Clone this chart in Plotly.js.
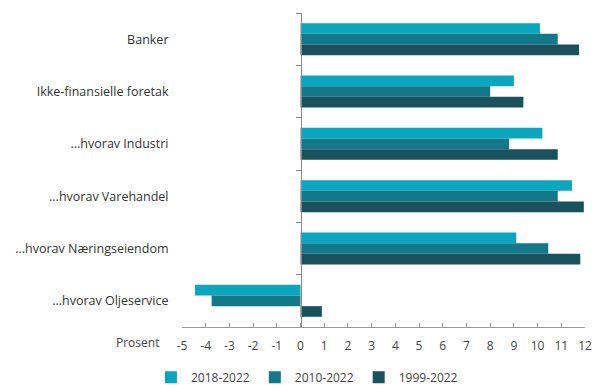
<!DOCTYPE html>
<html>
<head>
<meta charset="utf-8">
<script src="https://cdn.plot.ly/plotly-3.0.1.min.js"></script>
<style>html,body{margin:0;padding:0;background:#fff}#chart{width:593px;height:385px}</style>
</head>
<body>
<div id="chart"></div>
<script>
var categories = ["Banker", "Ikke-finansielle foretak", "...hvorav Industri", "...hvorav Varehandel", "...hvorav Næringseiendom", "...hvorav Oljeservice"];
var seriesNames = ["2018-2022", "2010-2022", "1999-2022"];
var v2018 = [10.1, 9.0, 10.2, 11.45, 9.1, -4.45];
var v2010 = [10.85, 8.0, 8.8, 10.85, 10.45, -3.75];
var v1999 = [11.75, 9.4, 10.85, 11.95, 11.8, 0.9];
var xTicks = [-5,-4,-3,-2,-1,0,1,2,3,4,5,6,7,8,9,10,11,12];
var colors = ["#0ba5be", "#13798a", "#19525d"];
var series = [v2018, v2010, v1999];

var font = "'Open Sans', sans-serif";
var traces = series.map(function(vals, i){
  return {type:'bar', orientation:'h', name:seriesNames[i], x:vals, y:categories,
    marker:{color:colors[i]}, xaxis:'x', yaxis:'y'};
});
// invisible helper trace to draw the category axis line at x=0
traces.push({type:'scatter', mode:'none', x:categories.map(function(){return 0;}), y:categories,
  xaxis:'x', yaxis:'y2', showlegend:false, hoverinfo:'skip'});

var xmin = xTicks[0], xmax = xTicks[xTicks.length-1];
var layout = {
  width:593, height:385,
  margin:{l:182, r:8, t:13, b:58, autoexpand:false},
  paper_bgcolor:'#fff', plot_bgcolor:'#fff',
  font:{family:font, size:12, color:'#333'},
  barmode:'group', bargap:0.39, bargroupgap:0,
  showlegend:true,
  legend:{orientation:'h', x:0.31, xanchor:'center', y:-0.16, yanchor:'middle',
    font:{size:12, color:'#444'}, itemwidth:30, tracegroupgap:0},
  xaxis:{range:[xmin, xmax], tickvals:xTicks, ticktext:xTicks.map(String),
    showgrid:false, zeroline:false, showline:true, linecolor:'#999', linewidth:1,
    ticks:'inside', ticklen:4, tickcolor:'#999', ticklabelstandoff:8,
    tickfont:{size:12, color:'#444'}, fixedrange:true, automargin:false},
  yaxis:{type:'category', categoryarray:categories, autorange:'reversed',
    showgrid:false, zeroline:false, showline:false, automargin:false,
    ticks:'outside', ticklen:10, tickcolor:'rgba(0,0,0,0)',
    tickfont:{size:12.5, color:'#333'}},
  yaxis2:{type:'category', overlaying:'y', matches:'y', anchor:'free',
    position:(0 - xmin)/(xmax - xmin), side:'left', automargin:false,
    showgrid:false, zeroline:false, showline:true, linecolor:'#888', linewidth:1,
    tickson:'boundaries', ticks:'outside', ticklen:5, tickcolor:'#888', showticklabels:false},
  annotations:[{text:'Prosent', xref:'paper', yref:'paper', x:-0.053, y:-0.05,
    xanchor:'right', yanchor:'middle', showarrow:false, font:{size:12, color:'#444'}}]
};
Plotly.newPlot('chart', traces, layout, {displayModeBar:false, staticPlot:true});
</script>
</body>
</html>
